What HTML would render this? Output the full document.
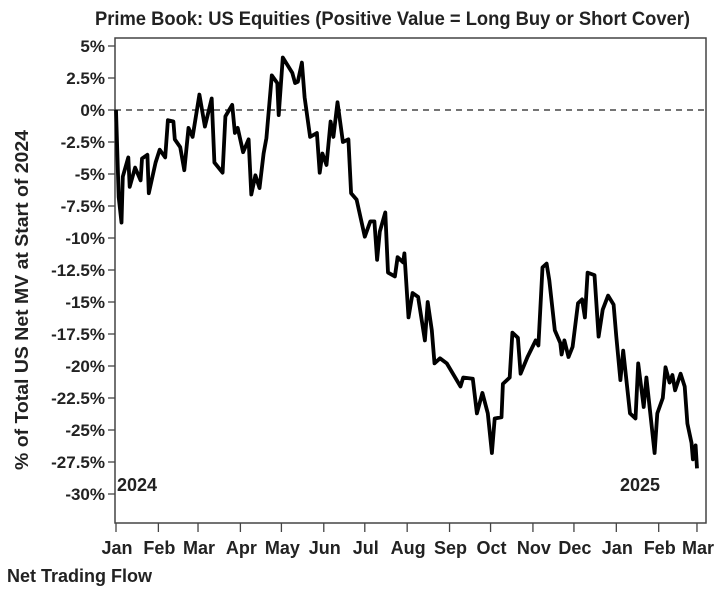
<!DOCTYPE html>
<html><head><meta charset="utf-8"><style>
html,body{margin:0;padding:0;background:#fff;}
svg text{font-family:"Liberation Sans Narrow","Liberation Sans",sans-serif;font-weight:bold;fill:#222;}
</style></head><body>
<svg id="chart" width="723" height="590" viewBox="0 0 723 590" xmlns="http://www.w3.org/2000/svg">
<text x="95" y="25" font-size="19" textLength="595" lengthAdjust="spacingAndGlyphs">Prime Book: US Equities (Positive Value = Long Buy or Short Cover)</text>
<text transform="translate(28,300) rotate(-90)" font-size="18" text-anchor="middle" textLength="340" lengthAdjust="spacingAndGlyphs">% of Total US Net MV at Start of 2024</text>
<rect x="115" y="38" width="591" height="485" fill="none" stroke="#444" stroke-width="1.5"/>
<line x1="115" x2="706" y1="110" y2="110" stroke="#222" stroke-width="1.3" stroke-dasharray="6,5"/>
<g id="yaxis"></g>
<g id="xaxis"></g>
<text x="117" y="491" font-size="18">2024</text>
<text x="620" y="491" font-size="18">2025</text>
<path id="line" fill="none" stroke="#000" stroke-width="3.8" stroke-linejoin="round"/>
<text x="7" y="582" font-size="18">Net Trading Flow</text>
</svg>
<script>
const days = [0,2,4,5,9,10,14,18,19,23,24,29,32,36,38,42,43,47,50,53,56,61,65,70,72,78,80,85,87,89,93,97,99,102,105,108,110,114,118,119,122,129,131,133,136,138,142,147,149,151,154,157,159,162,166,170,172,176,182,186,189,191,193,197,199,204,206,210,211,214,217,221,226,228,231,233,237,242,252,254,261,264,268,272,275,277,282,283,288,290,294,296,301,307,309,312,315,317,321,325,326,328,331,334,338,341,343,345,350,353,356,360,364,366,369,371,376,380,382,386,388,394,396,400,402,405,407,409,413,416,418,421,422,424,425];
const values = [0,-6.8,-8.8,-5.2,-3.7,-6.0,-4.5,-5.5,-3.8,-3.5,-6.5,-4.1,-3.1,-3.7,-0.8,-0.9,-2.3,-2.9,-4.7,-1.4,-2.1,1.2,-1.3,0.9,-4.1,-4.9,-0.5,0.4,-1.8,-1.4,-3.3,-2.3,-6.6,-5.1,-6.1,-3.4,-2.2,2.7,2.1,-0.4,4.1,2.9,2.1,2.2,3.7,1.0,-2.1,-1.8,-4.9,-3.4,-4.3,-0.9,-2.1,0.6,-2.5,-2.3,-6.5,-7.0,-9.9,-8.7,-8.7,-11.7,-9.5,-8.0,-12.7,-13.0,-11.5,-11.9,-11.2,-16.2,-14.3,-14.6,-18.0,-15.0,-17.2,-19.8,-19.4,-19.8,-21.6,-20.9,-21.0,-23.7,-22.1,-23.7,-26.8,-24.1,-24.0,-21.4,-20.9,-17.4,-17.8,-20.6,-19.3,-18.0,-18.4,-12.3,-12.0,-13.3,-17.2,-18.2,-19.1,-18.0,-19.3,-18.5,-15.1,-14.8,-16.2,-12.7,-12.9,-17.7,-15.6,-14.5,-15.2,-17.7,-21.1,-18.8,-23.7,-24.1,-19.8,-23.2,-20.9,-26.8,-23.7,-22.5,-20.1,-21.3,-20.7,-21.9,-20.6,-21.6,-24.5,-26.0,-27.3,-26.2,-28.0];
const yTicks = [5,2.5,0,-2.5,-5,-7.5,-10,-12.5,-15,-17.5,-20,-22.5,-25,-27.5,-30];
const yTickLabels = ["5%","2.5%","0%","-2.5%","-5%","-7.5%","-10%","-12.5%","-15%","-17.5%","-20%","-22.5%","-25%","-27.5%","-30%"];
const monthDays = [0,31,60,91,121,152,182,213,244,274,305,335,366,397,425];
const monthLabels = ["Jan","Feb","Mar","Apr","May","Jun","Jul","Aug","Sep","Oct","Nov","Dec","Jan","Feb","Mar"];

const NS="http://www.w3.org/2000/svg";
function xs(d){return 116+d*1.367;}
function ys(v){return 110-v*12.8;}
function mk(tag,attrs,parent){const e=document.createElementNS(NS,tag);for(const k in attrs)e.setAttribute(k,attrs[k]);parent.appendChild(e);return e;}
const ya=document.getElementById('yaxis');
yTicks.forEach((v,i)=>{
  const l=mk('line',{x1:108,x2:115,y1:ys(v),y2:ys(v),stroke:'#444','stroke-width':1.3},ya);
  
  
  const t=mk('text',{x:105,y:ys(v)+6,'font-size':17,'text-anchor':'end'},ya);
  
  
  t.textContent=yTickLabels[i];
});
const xa=document.getElementById('xaxis');
monthDays.forEach((d,i)=>{
  const l=mk('line',{x1:xs(d),x2:xs(d),y1:523,y2:532,stroke:'#444','stroke-width':1.3},xa);
  
  
  const t=mk('text',{x:xs(d)+1,y:554,'font-size':18,'text-anchor':'middle'},xa);
  
  
  t.textContent=monthLabels[i];
});
let dstr='';
days.forEach((d,i)=>{dstr+=(i?'L':'M')+xs(d).toFixed(1)+','+ys(values[i]).toFixed(1);});
document.getElementById('line').setAttribute('d',dstr);
</script>
</body></html>
